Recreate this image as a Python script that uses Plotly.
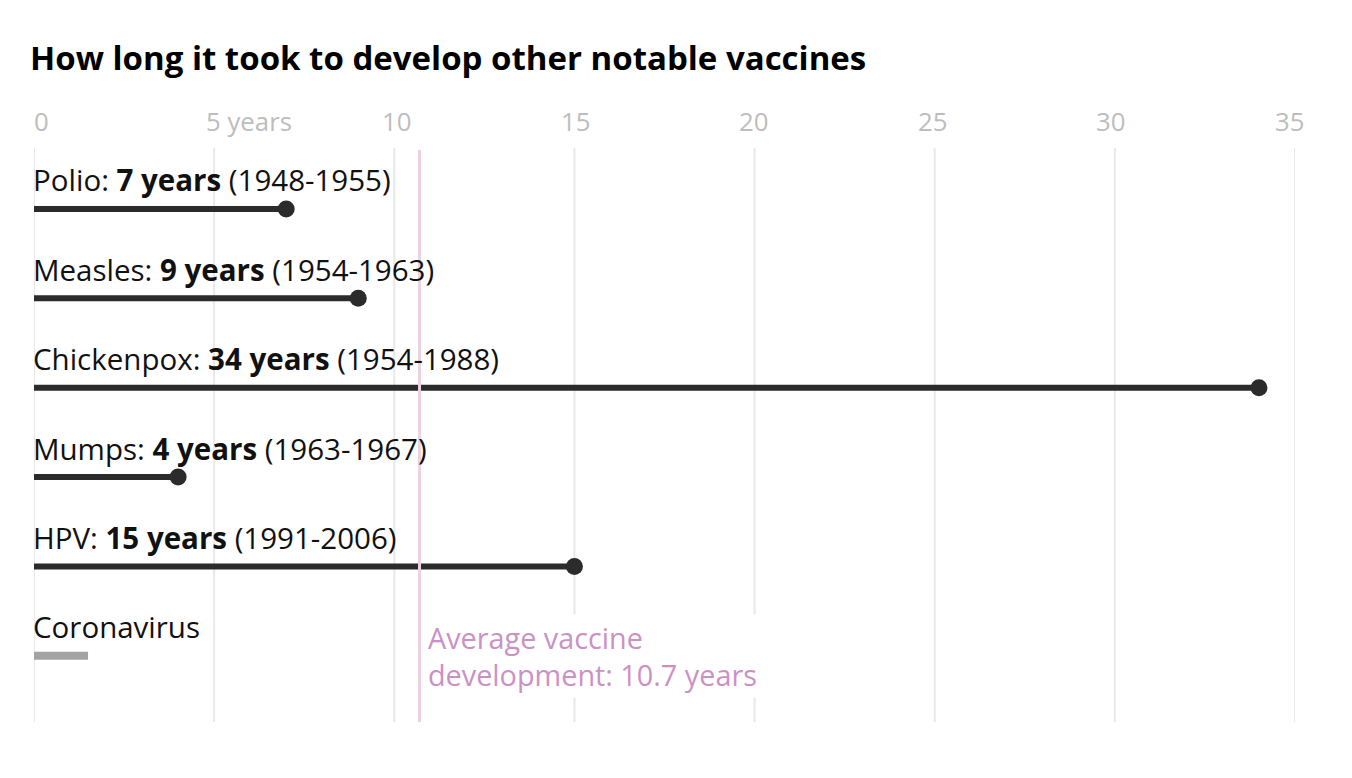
import plotly.graph_objects as go

# Data
vaccines = ["Polio", "Measles", "Chickenpox", "Mumps", "HPV", "Coronavirus"]
years = [7, 9, 34, 4, 15, 1.5]
periods = ["(1948-1955)", "(1954-1963)", "(1954-1988)", "(1963-1967)", "(1991-2006)", ""]
average_years = 10.7
tick_values = [0, 5, 10, 15, 20, 25, 30, 35]
tick_labels = ["0", "5 years", "10", "15", "20", "25", "30", "35"]

DARK = "#2b2b2b"
GRAY_BAR = "#a3a3a3"
PINK_LINE = "#ecd3e0"
PINK_TEXT = "#cc91c4"
FONT = "Open Sans, Arial, sans-serif"

fig = go.Figure()

# Vertical gridlines
for tv in tick_values:
    fig.add_shape(type="line", x0=tv, x1=tv, y0=0, y1=1, xref="x", yref="paper",
                  line=dict(color="#e8e8e8", width=2), layer="below")

for i, (name, val) in enumerate(zip(vaccines, years)):
    is_corona = name == "Coronavirus"
    fig.add_trace(go.Scatter(
        x=[0, val], y=[i, i], mode="lines",
        line=dict(color=GRAY_BAR if is_corona else DARK, width=8 if is_corona else 6),
        hoverinfo="skip", showlegend=False,
    ))
    if not is_corona:
        fig.add_trace(go.Scatter(
            x=[val], y=[i], mode="markers",
            marker=dict(color=DARK, size=17),
            hoverinfo="skip", showlegend=False,
        ))
    if is_corona:
        text = name
    else:
        text = f"{name}: <b>{val:g} years</b> {periods[i]}"
    fig.add_annotation(
        x=0, y=i, xref="x", yref="y", text=text, showarrow=False,
        xanchor="left", yanchor="middle", xshift=-3, yshift=29,
        font=dict(family=FONT, size=29.5, color="#111111"),
    )

# Average line
fig.add_trace(go.Scatter(
    x=[average_years, average_years], y=[-0.66, 5.74], mode="lines",
    line=dict(color=PINK_LINE, width=3), hoverinfo="skip", showlegend=False,
))
fig.add_annotation(
    x=average_years, y=5.0, xref="x", yref="y",
    text="Average vaccine<br>development: 10.7 years", showarrow=False,
    xanchor="left", yanchor="middle", xshift=4, align="left",
    font=dict(family=FONT, size=28.8, color=PINK_TEXT),
    bgcolor="white", borderpad=3,
)

# Top tick labels
for tv, tl in zip(tick_values, tick_labels):
    if tv == 0:
        anchor, shift = "left", -2
    elif tl.endswith("years"):
        anchor, shift = "left", -10
    else:
        anchor, shift = "center", 3 - 0.32 * (tv - 10)
    fig.add_annotation(x=tv, y=1.047, xref="x", yref="paper", text=tl,
                       showarrow=False, xanchor=anchor, yanchor="middle", xshift=shift,
                       font=dict(family=FONT, size=25.8, color="#bdbdbd"))

fig.update_layout(
    width=1352, height=778,
    paper_bgcolor="white", plot_bgcolor="white",
    margin=dict(l=26, r=65, t=140, b=64),
    title=dict(text="<b>How long it took to develop other notable vaccines</b>",
               x=22 / 1352, xanchor="left", xref="container",
               y=1 - 50 / 778, yanchor="middle", yref="container",
               font=dict(family=FONT, size=33, color="#000000")),
    xaxis=dict(range=[0, 35], showticklabels=False,
               showgrid=False, zeroline=False,
               showline=False, fixedrange=True),
    yaxis=dict(range=[5.74, -0.682], showgrid=False, zeroline=False,
               showticklabels=False, showline=False, fixedrange=True),
    showlegend=False,
)

fig.write_html("out.html")
